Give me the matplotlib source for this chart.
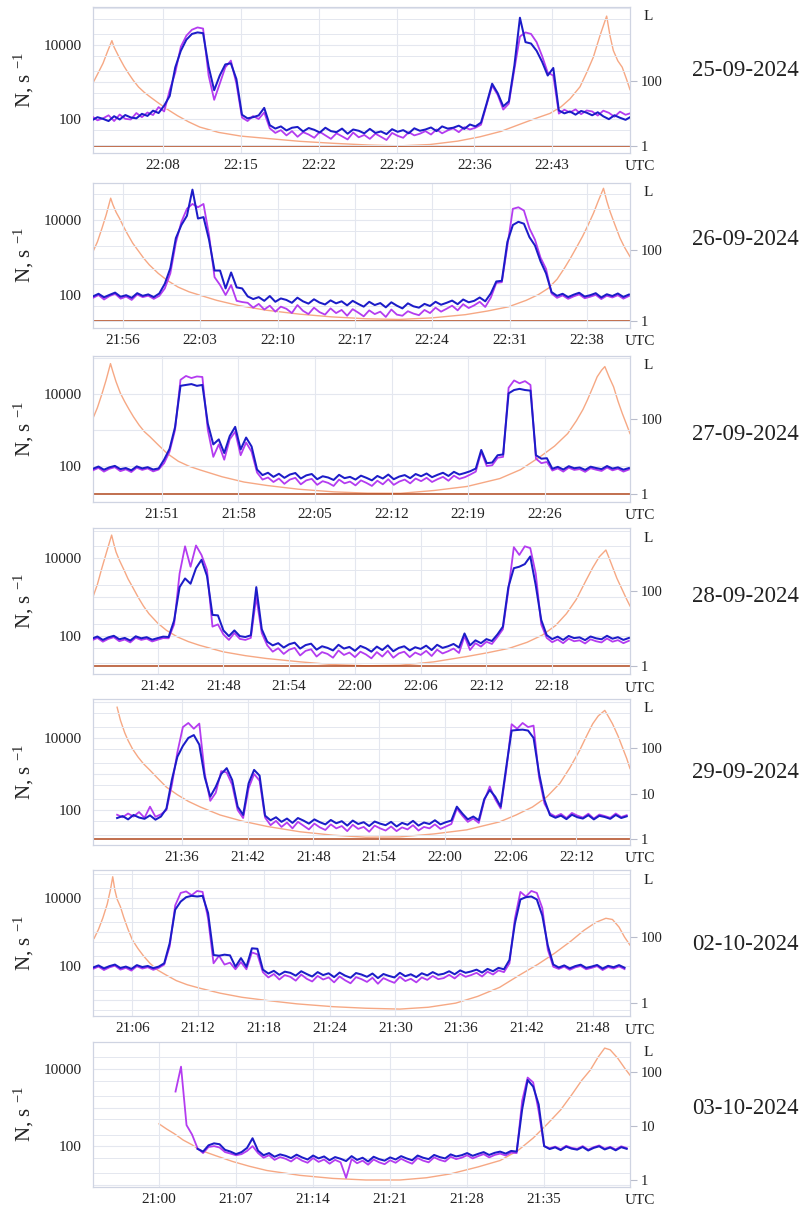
import numpy as np
import matplotlib.pyplot as plt
from matplotlib.ticker import FixedLocator, FuncFormatter, LogLocator, NullFormatter, NullLocator

plt.rcParams['font.family'] = ['Liberation Serif', 'DejaVu Serif']
plt.rcParams['mathtext.default'] = 'regular'

STEP = 0.5  # minutes between samples of the count series

# ---------------- data ----------------
dates = ['25-09-2024', '26-09-2024', '27-09-2024', '28-09-2024',
         '29-09-2024', '02-10-2024', '03-10-2024']

tick_labels = [
    ['22:08', '22:15', '22:22', '22:29', '22:36', '22:43'],
    ['21:56', '22:03', '22:10', '22:17', '22:24', '22:31', '22:38'],
    ['21:51', '21:58', '22:05', '22:12', '22:19', '22:26'],
    ['21:42', '21:48', '21:54', '22:00', '22:06', '22:12', '22:18'],
    ['21:36', '21:42', '21:48', '21:54', '22:00', '22:06', '22:12'],
    ['21:06', '21:12', '21:18', '21:24', '21:30', '21:36', '21:42', '21:48'],
    ['21:00', '21:07', '21:14', '21:21', '21:28', '21:35'],
]

# minutes of day, first sample of each count series
starts = [1321.6, 1313.3, 1304.7, 1296.0, 1290.1, 1262.4, 1261.5]

blue_1 = [92, 112, 101, 88, 119, 97, 128, 110, 104, 138,
          121, 168, 145, 230, 420, 2500, 7000, 14000, 20000, 22000,
          21000, 2600, 600, 1500, 3000, 3200, 1200, 130, 104, 112,
          125, 200, 68, 55, 63, 49, 58, 61, 46, 57,
          51, 43, 58, 47, 44, 55, 40, 52, 48, 41,
          54, 42, 46, 39, 53, 45, 50, 41, 56, 48,
          52, 59, 47, 63, 55, 58, 66, 54, 71, 63,
          80, 260, 900, 500, 220, 300, 2800, 55000, 12000, 11000,
          7000, 3500, 1500, 2400, 170, 142, 160, 131, 165, 148,
          126, 152, 118, 99, 126, 108, 95, 116]
magenta_1 = [118, 92, 104, 126, 88, 132, 101, 97, 145, 112,
             150, 128, 210, 160, 600, 1800, 9000, 18000, 26000, 30000,
             28000, 1500, 330, 900, 2500, 3800, 900, 110, 88, 120,
             100, 150, 56, 42, 50, 36, 47, 33, 44, 38,
             31, 45, 36, 29, 41, 34, 28, 43, 32, 37,
             29, 40, 33, 27, 42, 35, 31, 44, 36, 40,
             47, 38, 52, 41, 49, 56, 44, 60, 52, 58,
             70, 240, 800, 450, 180, 260, 2200, 17000, 22000, 20000,
             12000, 5000, 1800, 1500, 140, 178, 150, 182, 135, 170,
             160, 124, 168, 147, 115, 158, 130, 145]

blue_2 = [92, 108, 87, 101, 116, 90, 99, 84, 112, 95,
          104, 88, 110, 200, 520, 3300, 7400, 13000, 65000, 11000,
          12000, 3000, 450, 450, 150, 400, 160, 150, 92, 78,
          88, 70, 94, 66, 81, 74, 62, 85, 68, 59,
          77, 63, 56, 72, 60, 68, 53, 70, 58, 49,
          66, 54, 61, 47, 64, 52, 44, 60, 50, 46,
          58, 51, 66, 55, 62, 71, 57, 76, 64, 70,
          86, 68, 110, 230, 240, 2600, 7400, 9000, 8000, 3500,
          2100, 800, 380, 120, 95, 108, 88, 102, 115, 91,
          99, 112, 86, 105, 94, 110, 89, 103]
magenta_2 = [84, 100, 76, 94, 108, 80, 91, 74, 103, 88,
             96, 79, 95, 150, 380, 2500, 9000, 20000, 27000, 22000,
             27000, 4000, 300, 185, 100, 185, 70, 65, 62, 46,
             58, 41, 52, 36, 49, 43, 33, 54, 38, 31,
             46, 35, 30, 44, 33, 40, 28, 42, 34, 27,
             39, 31, 36, 26, 41, 30, 28, 37, 32, 29,
             40, 33, 46, 36, 43, 52, 39, 57, 45, 53,
             66, 48, 85, 210, 220, 2000, 20000, 22000, 18000, 6000,
             3000, 1000, 500, 110, 84, 98, 79, 92, 104, 82,
             90, 101, 78, 96, 86, 99, 80, 94]

blue_3 = [84, 97, 79, 92, 101, 82, 88, 76, 98, 86,
          93, 80, 86, 150, 300, 1200, 17000, 18000, 19000, 17000,
          18000, 1500, 400, 550, 230, 680, 1230, 290, 620, 350,
          80, 56, 65, 50, 61, 47, 58, 64, 45, 55,
          60, 43, 52, 48, 41, 57, 46, 50, 42, 54,
          47, 40, 53, 45, 58, 43, 51, 56, 46, 60,
          52, 62, 49, 57, 65, 53, 69, 58, 64, 72,
          85, 280, 120, 125, 200, 210, 10500, 13000, 14000, 13000,
          12500, 200, 160, 165, 84, 95, 80, 99, 87, 91,
          78, 96, 88, 82, 100, 85, 92, 79, 88]
magenta_3 = [76, 89, 70, 84, 93, 72, 81, 68, 90, 78,
             86, 71, 80, 120, 250, 1000, 25000, 32000, 28000, 31000,
             30000, 1000, 180, 400, 150, 550, 900, 200, 450, 250,
             66, 42, 48, 36, 45, 32, 42, 47, 31, 40,
             44, 30, 38, 34, 28, 42, 33, 37, 29, 40,
             34, 28, 39, 31, 43, 30, 37, 42, 33, 45,
             38, 47, 36, 43, 50, 39, 54, 44, 49, 58,
             70, 250, 100, 105, 170, 180, 15000, 24000, 20000, 23000,
             18000, 160, 120, 130, 75, 86, 70, 90, 78, 82,
             69, 87, 79, 73, 91, 76, 84, 70, 80]

blue_4 = [86, 98, 80, 93, 102, 83, 90, 77, 99, 88,
          94, 81, 89, 97, 95, 250, 1800, 3000, 2200, 5500,
          9000, 3500, 350, 340, 140, 100, 140, 100, 95, 105,
          1800, 150, 72, 58, 66, 51, 62, 68, 48, 59,
          64, 45, 55, 50, 43, 60, 48, 53, 42, 56,
          49, 40, 54, 44, 58, 41, 50, 55, 43, 52,
          47, 57, 44, 60, 50, 55, 63, 51, 117, 58,
          78, 66, 84, 75, 110, 175, 1800, 5500, 6000, 7000,
          11000, 2000, 260, 106, 84, 97, 80, 101, 89, 93,
          79, 98, 88, 83, 102, 86, 94, 80, 90]
magenta_4 = [78, 90, 72, 85, 94, 74, 82, 69, 91, 80,
             86, 73, 81, 89, 88, 200, 4000, 20000, 6000, 21000,
             12000, 5000, 175, 200, 110, 80, 120, 85, 80, 90,
             1000, 120, 58, 40, 49, 35, 45, 50, 32, 42,
             46, 30, 39, 35, 28, 43, 33, 38, 29, 40,
             34, 27, 39, 30, 42, 28, 36, 40, 29, 38,
             33, 42, 31, 45, 36, 41, 48, 37, 100, 44,
             66, 54, 72, 63, 95, 150, 1500, 19000, 12000, 20000,
             18000, 4000, 200, 90, 70, 82, 66, 86, 74, 78,
             65, 83, 74, 69, 87, 72, 79, 66, 76]

blue_5 = [60, 68, 55, 73, 62, 57, 71, 54, 66, 110,
          700, 3000, 6000, 10000, 12000, 6500, 800, 235, 440, 1000,
          1450, 680, 124, 73, 550, 1300, 900, 70, 52, 63,
          47, 58, 44, 60, 51, 42, 55, 46, 40, 53,
          43, 49, 37, 51, 41, 46, 36, 48, 42, 38,
          47, 35, 44, 39, 50, 37, 45, 41, 52, 40,
          46, 51, 124, 80, 55, 66, 52, 200, 360, 235,
          124, 1500, 16000, 16600, 17000, 16000, 10000, 1050, 190, 72,
          61, 70, 56, 74, 63, 58, 72, 55, 69, 64,
          57, 73, 60, 67]
magenta_5 = [74, 63, 80, 66, 88, 61, 124, 65, 76, 100,
             500, 4000, 20000, 26000, 18000, 25000, 1000, 180, 300, 1200,
             1100, 500, 100, 60, 400, 1000, 650, 62, 38, 50,
             34, 45, 31, 47, 37, 29, 42, 33, 28, 40,
             31, 36, 26, 39, 30, 34, 25, 37, 31, 27,
             35, 26, 33, 29, 38, 27, 34, 31, 40, 30,
             35, 41, 110, 70, 47, 58, 44, 180, 450, 200,
             110, 1200, 24000, 18000, 26000, 20000, 22000, 800, 150, 80,
             66, 78, 60, 83, 70, 62, 79, 58, 75, 68,
             61, 80, 64, 72]

blue_6 = [90, 104, 85, 99, 110, 87, 96, 82, 106, 93,
          100, 86, 96, 120, 470, 4500, 7800, 10500, 11500, 11000,
          11500, 3600, 210, 200, 215, 205, 95, 170, 95, 330,
          320, 78, 60, 72, 55, 68, 63, 52, 70, 58,
          49, 66, 54, 61, 47, 64, 52, 45, 62, 56,
          48, 60, 44, 58, 51, 46, 63, 50, 57, 47,
          61, 53, 66, 55, 59, 70, 57, 74, 63, 69,
          78, 64, 82, 70, 88, 80, 150, 1800, 9000, 10500,
          11000, 9000, 3000, 400, 110, 90, 104, 85, 99, 109,
          88, 96, 107, 84, 101, 92, 106, 89]
magenta_6 = [82, 96, 76, 91, 102, 78, 88, 73, 98, 84,
             92, 77, 88, 110, 380, 6000, 14000, 15500, 12000, 16000,
             15000, 2500, 120, 200, 110, 125, 80, 130, 80, 250,
             220, 66, 46, 58, 40, 54, 48, 37, 56, 42,
             35, 51, 40, 46, 33, 49, 38, 31, 47, 41,
             34, 45, 30, 44, 37, 32, 48, 36, 42, 33,
             46, 39, 51, 41, 44, 55, 43, 59, 48, 54,
             63, 49, 68, 56, 74, 66, 120, 2500, 15000, 11000,
             16000, 14000, 5000, 300, 95, 82, 96, 77, 91, 100,
             80, 88, 99, 76, 93, 84, 97, 81]

blue_7 = [None, None, None, None, 85, 72, 105, 118, 112, 80,
          72, 62, 70, 90, 160, 76, 58, 66, 53, 61,
          56, 49, 60, 51, 45, 57, 48, 54, 43, 52,
          47, 41, 55, 44, 50, 40, 53, 46, 42, 51,
          45, 55, 48, 43, 57, 50, 46, 59, 52, 48,
          61, 54, 58, 66, 56, 63, 70, 59, 67, 72,
          64, 75, 72, 900, 5200, 3500, 1200, 100, 84, 93,
          79, 97, 86, 81, 95, 77, 90, 99, 82, 92,
          78, 94, 85]
magenta_7 = [2600, 11500, 350, 200, 88, 66, 95, 100, 92, 70,
             64, 58, 62, 75, 100, 66, 50, 58, 44, 52,
             47, 40, 51, 42, 37, 49, 39, 45, 35, 44,
             38, 15, 46, 36, 42, 33, 45, 38, 34, 43,
             37, 47, 40, 35, 49, 42, 38, 51, 44, 40,
             53, 46, 50, 58, 48, 55, 62, 51, 59, 64,
             57, 68, 66, 1500, 6000, 4500, 800, 100, 88, 97,
             83, 102, 90, 85, 100, 81, 94, 104, 86, 96,
             82, 99, 89]

# L-shell along the track (right axis): times (min of day) and values
l_time_1 = [1321.7, 1322.1, 1322.6, 1323.0, 1323.4, 1323.6, 1323.8, 1324.1, 1324.5, 1324.9,
            1325.3, 1325.8, 1326.3, 1326.8, 1327.5, 1328.3, 1329.3, 1330.3, 1331.3, 1333.0,
            1335.0, 1337.3, 1340.3, 1343.3, 1346.5, 1349.3, 1352.0, 1354.5, 1356.5, 1358.4,
            1360.0, 1361.5, 1362.8, 1363.8, 1364.6, 1365.5, 1366.1, 1366.7, 1367.3, 1367.6,
            1367.9, 1368.2, 1368.5, 1368.9, 1369.3, 1369.7, 1370.0]
l_val_1 = [87, 160, 350, 800, 1750, 1100, 800, 500, 280, 170,
           107, 65, 45, 33, 22, 14, 8.5, 5.5, 3.8, 2.6,
           2.0, 1.7, 1.38, 1.2, 1.06, 1.0, 1.1, 1.4, 1.9, 2.8,
           4.5, 7, 10, 16, 28, 66, 180, 540, 2500, 5000,
           10000, 2500, 870, 420, 265, 110, 54]
l_time_2 = [1313.3, 1313.7, 1314.1, 1314.5, 1314.9, 1315.1, 1315.4, 1315.7, 1316.0, 1316.4,
            1316.9, 1317.4, 1317.9, 1318.4, 1319.2, 1320.0, 1321.0, 1322.0, 1322.9, 1324.5,
            1326.5, 1329.0, 1332.0, 1334.9, 1338.0, 1341.0, 1344.0, 1347.0, 1349.0, 1350.9,
            1352.5, 1353.6, 1354.5, 1355.3, 1356.0, 1356.5, 1357.0, 1357.6, 1358.1, 1358.6,
            1359.0, 1359.5, 1359.8, 1360.1, 1360.5, 1361.0, 1361.4, 1361.9]
l_val_2 = [90, 170, 400, 1000, 2900, 1900, 1150, 780, 500, 290,
           155, 95, 58, 38, 22, 14, 9, 6.6, 5.4, 3.8,
           2.7, 2.0, 1.55, 1.3, 1.15, 1.1, 1.22, 1.5, 1.9, 2.5,
           3.8, 5.5, 8.3, 15, 32, 58, 110, 240, 500, 1100,
           2300, 5500, 2400, 1200, 550, 215, 120, 65]
l_time_3 = [1304.7, 1305.1, 1305.5, 1305.9, 1306.3, 1306.5, 1306.8, 1307.2, 1307.6, 1308.0,
            1308.4, 1308.9, 1309.4, 1309.9, 1310.7, 1311.5, 1312.5, 1313.5, 1314.5, 1316.5,
            1318.5, 1320.6, 1323.5, 1326.7, 1329.8, 1332.8, 1335.9, 1338.9, 1341.9, 1343.8,
            1345.6, 1346.9, 1348.1, 1348.9, 1349.5, 1349.9, 1350.4, 1350.8, 1351.2, 1351.5,
            1351.9, 1352.3, 1352.7, 1353.1, 1353.5, 1353.8]
l_val_3 = [105, 200, 450, 1100, 3000, 1900, 1000, 490, 290, 180,
           115, 70, 46, 34, 20, 12, 7.5, 5.5, 4.4, 2.9,
           2.1, 1.7, 1.35, 1.15, 1.06, 1.05, 1.25, 1.6, 2.6, 4.5,
           10, 19, 41, 90, 180, 320, 700, 1340, 2000, 2500,
           1300, 720, 300, 140, 70, 41]
l_time_4 = [1296.1, 1296.5, 1296.9, 1297.3, 1297.8, 1298.0, 1298.2, 1298.5, 1298.9, 1299.3,
            1299.7, 1300.2, 1300.7, 1301.2, 1302.0, 1302.8, 1303.8, 1304.8, 1305.8, 1308.0,
            1310.0, 1311.9, 1315.0, 1317.9, 1321.0, 1324.1, 1327.2, 1330.2, 1332.2, 1334.1,
            1335.7, 1337.1, 1338.3, 1339.3, 1340.2, 1341.1, 1341.7, 1342.3, 1342.9, 1343.2,
            1343.5, 1343.9, 1344.4, 1344.8, 1345.1]
l_val_4 = [70, 150, 400, 1000, 3100, 1800, 1100, 670, 380, 210,
           130, 70, 40, 25, 14, 9, 6, 4.5, 3.6, 2.4,
           1.9, 1.6, 1.3, 1.1, 1.02, 1.05, 1.3, 1.8, 2.3, 3,
           4.3, 6.7, 12, 25, 60, 195, 420, 820, 1240, 750,
           445, 220, 107, 60, 40]
l_time_5 = [1290.1, 1290.4, 1290.8, 1291.1, 1291.5, 1292.0, 1292.5, 1293.1, 1293.8, 1294.6,
            1295.6, 1296.6, 1297.7, 1299.5, 1301.5, 1303.8, 1306.8, 1309.8, 1312.8, 1315.9,
            1319.0, 1322.0, 1325.0, 1326.5, 1328.0, 1329.3, 1330.5, 1331.4, 1332.3, 1332.9,
            1333.5, 1334.0, 1334.6, 1334.9, 1335.3, 1335.8, 1336.2, 1336.6, 1336.9]
l_val_5 = [810, 420, 220, 150, 98, 65, 46, 33, 22, 14,
           9.5, 6.8, 5.1, 3.4, 2.5, 1.9, 1.45, 1.22, 1.1, 1.12,
           1.3, 1.6, 2.4, 3.4, 5.1, 8.5, 17, 37, 90, 180,
           350, 520, 690, 520, 350, 190, 107, 60, 36]
l_time_6 = [1262.5, 1262.9, 1263.3, 1263.7, 1264.0, 1264.2, 1264.4, 1264.6, 1264.9, 1265.2,
            1265.6, 1266.0, 1266.5, 1267.0, 1267.6, 1268.3, 1269.1, 1270.0, 1271.0, 1272.2,
            1274.0, 1276.0, 1278.3, 1281.0, 1284.3, 1287.3, 1290.4, 1293.0, 1295.5, 1297.5,
            1299.5, 1301.3, 1303.0, 1304.5, 1306.0, 1307.2, 1308.3, 1309.2, 1309.8, 1310.4,
            1310.9, 1311.4]
l_val_6 = [91, 170, 380, 1000, 2800, 6700, 2600, 1400, 830, 400,
           170, 81, 45, 27, 16, 10, 7, 4.8, 3.6, 2.8,
           2.0, 1.5, 1.2, 0.95, 0.78, 0.7, 0.66, 0.75, 1.0, 1.6,
           3, 7, 15, 32, 75, 160, 280, 370, 340, 200,
           100, 57]
l_time_7 = [1260.0, 1260.7, 1261.4, 1262.2, 1263.0, 1263.7, 1265.2, 1266.7, 1268.2, 1269.8,
            1272.8, 1275.8, 1278.8, 1281.9, 1284.3, 1286.5, 1289.0, 1291.0, 1292.6, 1294.0,
            1295.3, 1296.5, 1297.5, 1298.4, 1299.2, 1299.9, 1300.5, 1301.0, 1301.7, 1302.3,
            1302.8]
l_val_7 = [11, 8.8, 7.2, 5.5, 4.5, 3.6, 2.8, 2.2, 1.8, 1.5,
           1.22, 1.07, 1.0, 1.0, 1.1, 1.3, 1.75, 2.3, 3.5, 6,
           11, 20, 38, 70, 110, 190, 280, 260, 180, 120,
           88]

right_ticks = [[1, 100], [1, 100], [1, 100], [1, 100], [1, 10, 100], [1, 100], [1, 10, 100]]
has_base_line = [True, True, True, True, True, False, False]

blues = [blue_1, blue_2, blue_3, blue_4, blue_5, blue_6, blue_7]
magentas = [magenta_1, magenta_2, magenta_3, magenta_4, magenta_5, magenta_6, magenta_7]
l_times = [l_time_1, l_time_2, l_time_3, l_time_4, l_time_5, l_time_6, l_time_7]
l_vals = [l_val_1, l_val_2, l_val_3, l_val_4, l_val_5, l_val_6, l_val_7]

# ---------------- layout (pixels of the 799x1207 picture) ----------------
W, H = 799, 1207
tops = [7, 183, 356, 528, 699, 870, 1042]
bottoms = [153, 328, 502, 674, 845, 1016, 1187]
xlims = [(1321.7, 1370.0), (1313.3, 1361.9), (1304.7, 1353.8), (1296.1, 1345.1),
         (1287.9, 1336.9), (1262.4, 1311.4), (1254.0, 1302.8)]
left_lims = [(1.08, 5.03), (1.12, 4.99), (1.0, 5.06), (1.03, 4.77),
             (1.03, 5.08), (0.53, 4.82), (0.94, 4.70)]
right_lims = [(-0.22, 4.28), (-0.2, 3.89), (-0.21, 3.68), (-0.21, 3.68),
              (-0.13, 3.09), (-0.39, 4.03), (-0.13, 2.56)]
date_y = [70, 240, 435, 596, 773, 945, 1108]

BLUE = '#1c1cc8'
MAGENTA = '#b43cf0'
ORANGE = '#f6a884'
GRID = '#e4e7ef'
SPINE = '#cfd4e2'
TEXT = '#222222'


def to_min(s):
    h, m = s.split(':')
    return int(h) * 60 + int(m)


fig = plt.figure(figsize=(W / 100, H / 100), dpi=100)

for k in range(7):
    top, bot = tops[k], bottoms[k]
    ax = fig.add_axes([93 / W, 1 - bot / H, 537 / W, (bot - top) / H])
    ax2 = ax.twinx()
    ax.set_zorder(ax2.get_zorder() + 1)
    ax.patch.set_visible(False)

    # counts
    mag = np.array(magentas[k], dtype=float)
    blu = np.array(blues[k], dtype=float)
    t = starts[k] + STEP * np.arange(len(mag))
    ax.plot(t, mag, color=MAGENTA, lw=1.3, zorder=3)
    ax.plot(t, blu, color=BLUE, lw=1.45, zorder=4)

    # L shell
    ax2.plot(l_times[k], l_vals[k], color=ORANGE, lw=1.0)
    if has_base_line[k]:
        ax2.axhline(1, color='#b0481e', lw=1.1)

    ax.set_yscale('log')
    ax2.set_yscale('log')
    ax.set_ylim(10 ** left_lims[k][0], 10 ** left_lims[k][1])
    ax2.set_ylim(10 ** right_lims[k][0], 10 ** right_lims[k][1])
    ax.set_xlim(*xlims[k])

    # x axis
    ax.xaxis.set_major_locator(FixedLocator([to_min(s) for s in tick_labels[k]]))
    ax.set_xticklabels(tick_labels[k])
    ax.tick_params(axis='x', length=0, pad=4, labelsize=11, labelcolor=TEXT)

    # left axis
    ax.yaxis.set_major_locator(FixedLocator([10, 100, 1000, 10000, 100000]))
    ax.yaxis.set_major_formatter(FuncFormatter(
        lambda v, p: '%d' % v if v in (100, 10000) else ''))
    ax.yaxis.set_minor_locator(LogLocator(base=10, subs=(2, 5)))
    ax.yaxis.set_minor_formatter(NullFormatter())
    ax.tick_params(axis='y', which='both', length=0, pad=8, labelsize=11, labelcolor=TEXT)

    ax.grid(True, which='major', color=GRID, lw=0.8, zorder=0)
    ax.grid(True, which='minor', axis='y', color=GRID, lw=0.7, zorder=0)

    # right axis
    ax2.yaxis.set_major_locator(FixedLocator(right_ticks[k]))
    ax2.yaxis.set_major_formatter(FuncFormatter(lambda v, p: '%d' % v))
    ax2.yaxis.set_minor_locator(NullLocator())
    ax2.tick_params(axis='y', length=5, width=0.8, color='#b8bccb', pad=3,
                    labelsize=10.5, labelcolor=TEXT)

    for a in (ax, ax2):
        for s in a.spines.values():
            s.set_color(SPINE)
            s.set_linewidth(0.8)

    ax.annotate('L', xy=(1, 1), xycoords='axes fraction', xytext=(18, -10),
                textcoords='offset pixels', ha='center', va='center',
                fontsize=11, color=TEXT)
    ax.annotate('UTC', xy=(1, 0), xycoords='axes fraction', xytext=(10, -14),
                textcoords='offset pixels', ha='center', va='center',
                fontsize=11, color=TEXT)

    fig.text(24 / W, 1 - (top + bot) / 2 / H, 'N, s $^{-1}$', rotation=90,
             ha='center', va='center', fontsize=15, color=TEXT)
    fig.text(745 / W, 1 - date_y[k] / H, dates[k], ha='center', va='center',
             fontsize=16.5, color=TEXT)

fig.savefig('out.png', dpi=100)
